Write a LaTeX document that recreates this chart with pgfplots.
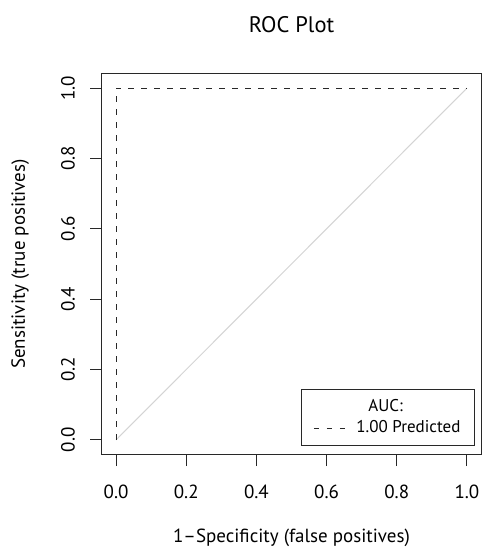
\documentclass[border=0pt]{standalone}
\usepackage{fontspec}
\setmainfont{PT Sans}
\usepackage{pgfplots}
\pgfplotsset{compat=1.18}
\definecolor{diag}{RGB}{212,212,212}
\definecolor{ink}{RGB}{40,40,40}
\begin{document}
\fontsize{19bp}{22bp}\selectfont
\begin{tikzpicture}
\begin{axis}[name=ax, scale only axis, width=379bp, height=380bp,
  xmin=-0.04, xmax=1.04, ymin=-0.04, ymax=1.04,
  xtick={0,0.2,0.4,0.6,0.8,1}, ytick={0,0.2,0.4,0.6,0.8,1},
  xticklabels={0.0,0.2,0.4,0.6,0.8,1.0},
  yticklabels={0.0,0.2,0.4,0.6,0.8,1.0},
  xtick pos=bottom, ytick pos=left,
  tick align=outside, major tick length=12bp,
  tick style={ink, line width=1bp},
  axis line style={ink, line width=1bp},
  xticklabel style={anchor=center, yshift=-26bp},
  yticklabel style={xshift=-22bp, rotate=90, anchor=center},
  title={ROC Plot},
  title style={at={(axis description cs:0.5,1.115)}, anchor=center, font=\fontsize{22.5bp}{26bp}\selectfont},
  xlabel={1–Specificity (false positives)},
  ylabel={Sensitivity (true positives)},
  x label style={at={(axis description cs:0.5,-0.221)}, anchor=center},
  y label style={at={(axis description cs:-0.216,0.5)}, anchor=center},
  legend style={at={(axis description cs:0.984,0.021)}, anchor=south east,
    draw=ink, line width=1bp, font=\fontsize{17bp}{20bp}\selectfont,
    legend cell align=left, inner xsep=12bp, inner ysep=8bp,
    nodes={inner sep=2bp}, /tikz/column sep=8bp, /tikz/row sep=2bp},
  legend image code/.code={\draw[#1] (0bp,0bp) -- (32bp,0bp);},
]
\addlegendimage{empty legend}
\addlegendentry{\hspace*{12bp}AUC:}
\addplot[diag, line width=1bp, forget plot] coordinates {(0,0) (1,1)};
\addplot[ink, line width=1bp, dash pattern=on 5.5bp off 7.5bp] coordinates {(0,0) (0,1) (1,1)};
\addlegendentry{1.00 Predicted}
\end{axis}
\pgfresetboundingbox
\path ([shift={(-102bp,-96bp)}]ax.south west) rectangle ([shift={(1bp,74bp)}]ax.north east);
\end{tikzpicture}
\end{document}
